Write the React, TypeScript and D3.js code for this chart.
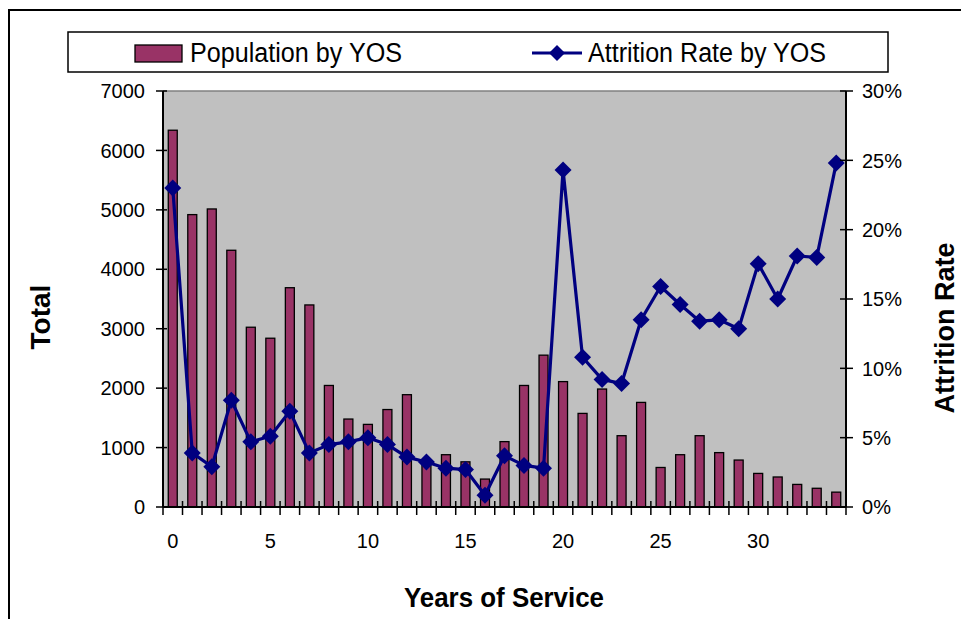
import * as d3 from 'd3';
import React from 'react';

// years of service (categories)
const yos = [
  0, 1, 2, 3, 4, 5, 6, 7, 8, 9, 10, 11, 12, 13, 14, 15, 16, 17, 18, 19, 20, 21,
  22, 23, 24, 25, 26, 27, 28, 29, 30, 31, 32, 33, 34,
];

const population = [
  6340, 4920, 5015, 4320, 3025, 2840, 3690, 3400, 2045, 1480, 1390, 1640, 1890,
  780, 880, 760, 470, 1100, 2045, 2555, 2110, 1575, 1985, 1200, 1760, 665, 880,
  1200, 915, 790, 565, 505, 380, 315, 250,
];

// percent
const attrition = [
  23.0, 3.9, 2.9, 7.7, 4.7, 5.1, 6.9, 3.9, 4.5, 4.7, 5.0, 4.5, 3.6, 3.25, 2.8,
  2.7, 0.85, 3.7, 3.0, 2.8, 24.3, 10.8, 9.2, 8.9, 13.5, 15.9, 14.6, 13.4, 13.5,
  12.85, 17.55, 15.0, 18.1, 18.0, 24.8,
];

const leftTicks = [0, 1000, 2000, 3000, 4000, 5000, 6000, 7000];
const rightTicks = [0, 5, 10, 15, 20, 25, 30];
const xLabels = [0, 5, 10, 15, 20, 25, 30];

const W = 961;
const H = 619;
const plot = { left: 163, right: 846, top: 91, bottom: 507 };
const font = '"Liberation Sans", Arial, sans-serif';
const barColor = '#993366';
const lineColor = '#000080';

const diamond = (cx: number, cy: number, r: number) =>
  `M${cx},${cy - r}L${cx + r},${cy}L${cx},${cy + r}L${cx - r},${cy}Z`;

const App = () => {
  const x = d3
    .scaleBand<number>()
    .domain(yos)
    .range([plot.left, plot.right])
    .paddingInner(0.54)
    .paddingOuter(0.27);
  const step = x.step();
  const x0 = plot.left;

  const yL = d3.scaleLinear().domain([0, 7000]).range([plot.bottom, plot.top]);
  const yR = d3.scaleLinear().domain([0, 30]).range([plot.bottom, plot.top]);

  const cx = (d: number) => (x(d) as number) + x.bandwidth() / 2;

  const line = d3
    .line<number>()
    .x((d, i) => cx(yos[i]))
    .y((d) => yR(d));

  return (
    <svg
      width={W}
      height={H}
      style={{ position: 'fixed', left: 0, top: 0, background: '#fff' }}
      fontFamily={font}
    >
      {/* outer chart border */}
      <rect x={9} y={10} width={W + 20} height={H + 20} fill="none" stroke="#000" strokeWidth={2} />

      {/* plot area */}
      <rect
        x={plot.left}
        y={plot.top}
        width={plot.right - plot.left}
        height={plot.bottom - plot.top}
        fill="#c0c0c0"
      />
      <line x1={plot.left} x2={plot.right} y1={plot.top} y2={plot.top} stroke="#808080" strokeWidth={1.5} />

      {/* bars */}
      {population.map((v, i) => (
        <rect
          key={i}
          x={x(yos[i])}
          y={yL(v)}
          width={x.bandwidth()}
          height={yL(0) - yL(v)}
          fill={barColor}
          stroke="#000"
          strokeWidth={1.3}
        />
      ))}

      {/* line */}
      <path d={line(attrition) || ''} fill="none" stroke={lineColor} strokeWidth={3.2} strokeLinejoin="round" />
      {attrition.map((v, i) => (
        <path key={i} d={diamond(cx(yos[i]), yR(v), 8.5)} fill={lineColor} />
      ))}

      {/* left axis */}
      <line x1={plot.left} x2={plot.left} y1={plot.top} y2={plot.bottom} stroke="#000" strokeWidth={2} />
      {leftTicks.map((t) => (
        <g key={t}>
          <line x1={plot.left - 7} x2={plot.left + 4} y1={yL(t)} y2={yL(t)} stroke="#000" strokeWidth={1.5} />
          <text x={145} y={yL(t)} dy="0.36em" textAnchor="end" fontSize={20}>
            {t}
          </text>
        </g>
      ))}

      {/* right axis */}
      <line x1={plot.right} x2={plot.right} y1={plot.top} y2={plot.bottom} stroke="#000" strokeWidth={2} />
      {rightTicks.map((t) => (
        <g key={t}>
          <line x1={plot.right - 6} x2={plot.right + 7} y1={yR(t)} y2={yR(t)} stroke="#000" strokeWidth={1.5} />
          <text x={862} y={yR(t)} dy="0.36em" fontSize={20}>
            {t}%
          </text>
        </g>
      ))}

      {/* bottom axis */}
      <line x1={plot.left} x2={plot.right} y1={plot.bottom} y2={plot.bottom} stroke="#000" strokeWidth={2} />
      {d3.range(yos.length + 1).map((i) => (
        <line
          key={i}
          x1={x0 + i * step}
          x2={x0 + i * step}
          y1={plot.bottom - 6}
          y2={plot.bottom + 8}
          stroke="#000"
          strokeWidth={1.5}
        />
      ))}
      {xLabels.map((t) => (
        <text key={t} x={cx(t)} y={548} textAnchor="middle" fontSize={20}>
          {t}
        </text>
      ))}

      {/* axis titles */}
      <text x={504} y={607} textAnchor="middle" fontSize={28} fontWeight="bold" textLength={200} lengthAdjust="spacingAndGlyphs">
        Years of Service
      </text>
      <text transform="translate(50,317) rotate(-90)" textAnchor="middle" fontSize={28} fontWeight="bold">
        Total
      </text>
      <text transform="translate(954,328) rotate(-90)" textAnchor="middle" fontSize={27} fontWeight="bold">
        Attrition Rate
      </text>

      {/* legend */}
      <rect x={68} y={32} width={820} height={40} fill="#fff" stroke="#000" strokeWidth={1.5} />
      <rect x={135} y={45} width={47} height={17} fill={barColor} stroke="#000" strokeWidth={1.3} />
      <text x={190} y={62} fontSize={27} textLength={212} lengthAdjust="spacingAndGlyphs">
        Population by YOS
      </text>
      <line x1={532} x2={582} y1={53} y2={53} stroke={lineColor} strokeWidth={3.2} />
      <path d={diamond(557, 53, 8)} fill={lineColor} />
      <text x={588} y={62} fontSize={27} textLength={238} lengthAdjust="spacingAndGlyphs">
        Attrition Rate by YOS
      </text>
    </svg>
  );
};

export default App;
